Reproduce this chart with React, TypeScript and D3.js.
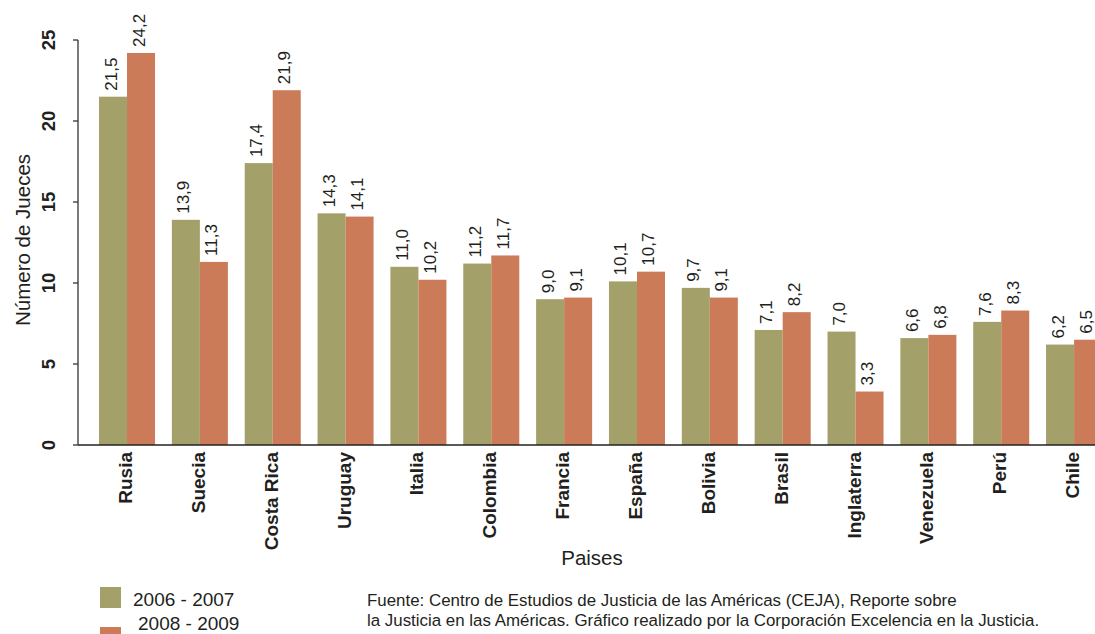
import React from "react";
import * as d3 from "d3";

// Judges per 100,000 inhabitants, by country and period
const countries = [
  "Rusia", "Suecia", "Costa Rica", "Uruguay", "Italia", "Colombia", "Francia",
  "España", "Bolivia", "Brasil", "Inglaterra", "Venezuela", "Perú", "Chile",
];
const periods = ["2006 - 2007", "2008 - 2009"];
const values2006 = [21.5, 13.9, 17.4, 14.3, 11.0, 11.2, 9.0, 10.1, 9.7, 7.1, 7.0, 6.6, 7.6, 6.2];
const values2008 = [24.2, 11.3, 21.9, 14.1, 10.2, 11.7, 9.1, 10.7, 9.1, 8.2, 3.3, 6.8, 8.3, 6.5];
const yTicks = [0, 5, 10, 15, 20, 25];
const sourceLines = [
  "Fuente: Centro de Estudios de Justicia de las Américas (CEJA), Reporte sobre",
  "la Justicia en las Américas. Gráfico realizado por la Corporación Excelencia en la Justicia.",
];

const W = 1095;
const H = 634;
const FONT = "'Liberation Sans', Arial, Helvetica, sans-serif";
const TEXT = "#231f20";
const colors = ["#a4a06a", "#cc7b59"];

const locale = d3.formatLocale({ decimal: ",", thousands: ".", grouping: [3], currency: ["", ""] });
const fmt = locale.format(".1f");

export default function App() {
  const series = [values2006, values2008];

  const y = d3.scaleLinear().domain([0, 25]).range([445, 40]);
  const x = d3
    .scaleBand<string>()
    .domain(countries)
    .range([90.6, 1110.5])
    .paddingInner(0.231)
    .paddingOuter(0.1155);
  const x1 = d3
    .scaleBand<string>()
    .domain(periods)
    .range([0, x.bandwidth()]);

  const axisX = 78;
  const baseY = y(0);

  return (
    <div style={{ position: "fixed", left: 0, top: 0, width: W, height: H, background: "#fff" }}>
      <svg width={W} height={H} style={{ display: "block", fontFamily: FONT }}>
        <rect width={W} height={H} fill="#fff" />

        {/* bars */}
        {countries.map((c, i) => (
          <g key={c} transform={`translate(${x(c)},0)`}>
            {periods.map((p, s) => {
              const v = series[s][i];
              return (
                <rect
                  key={p}
                  x={x1(p)}
                  y={y(v)}
                  width={x1.bandwidth()}
                  height={baseY - y(v)}
                  fill={colors[s]}
                />
              );
            })}
          </g>
        ))}

        {/* value labels */}
        {countries.map((c, i) =>
          periods.map((p, s) => {
            const v = series[s][i];
            const cx = (x(c) as number) + (x1(p) as number) + x1.bandwidth() / 2 + 3.5;
            const ty = y(v) - 6;
            return (
              <text
                key={`${c}-${p}`}
                transform={`translate(${cx},${ty}) rotate(-90)`}
                fontSize={17}
                fill={TEXT}
                textAnchor="start"
              >
                {fmt(v)}
              </text>
            );
          })
        )}

        {/* y axis */}
        <line x1={axisX} x2={axisX} y1={y(25)} y2={baseY} stroke="#333" strokeWidth={1.3} />
        {yTicks.map((t) => (
          <g key={t}>
            <line x1={axisX - 5} x2={axisX} y1={y(t)} y2={y(t)} stroke="#333" strokeWidth={1.3} />
            <text
              transform={`translate(55,${y(t)}) rotate(-90)`}
              textAnchor="middle"
              fontSize={18.5}
              fontWeight="bold"
              fill={TEXT}
            >
              {t}
            </text>
          </g>
        ))}
        <text
          transform="translate(30,240) rotate(-90)"
          textAnchor="middle"
          fontSize={20.5}
          fill={TEXT}
        >
          Número de Jueces
        </text>

        {/* x axis */}
        <line x1={axisX} x2={W} y1={baseY} y2={baseY} stroke="#222" strokeWidth={1.6} />
        {countries.map((c) => (
          <text
            key={c}
            transform={`translate(${(x(c) as number) + x.bandwidth() / 2 + 5},452) rotate(-90)`}
            textAnchor="end"
            fontSize={19}
            fontWeight="bold"
            fill={TEXT}
          >
            {c}
          </text>
        ))}
        <text x={592} y={565} textAnchor="middle" fontSize={20.5} fill={TEXT}>
          Paises
        </text>

        {/* legend */}
        {periods.map((p, s) => (
          <g key={p}>
            <rect x={100} y={587 + s * 40} width={21} height={21} fill={colors[s]} />
            <text x={133 + s * 5} y={606 + s * 24} fontSize={19} fill={TEXT}>
              {p}
            </text>
          </g>
        ))}

        {/* source note */}
        {sourceLines.map((line, i) => (
          <text key={i} x={367} y={606 + i * 20} fontSize={16.9} fill={TEXT}>
            {line}
          </text>
        ))}
      </svg>
    </div>
  );
}
